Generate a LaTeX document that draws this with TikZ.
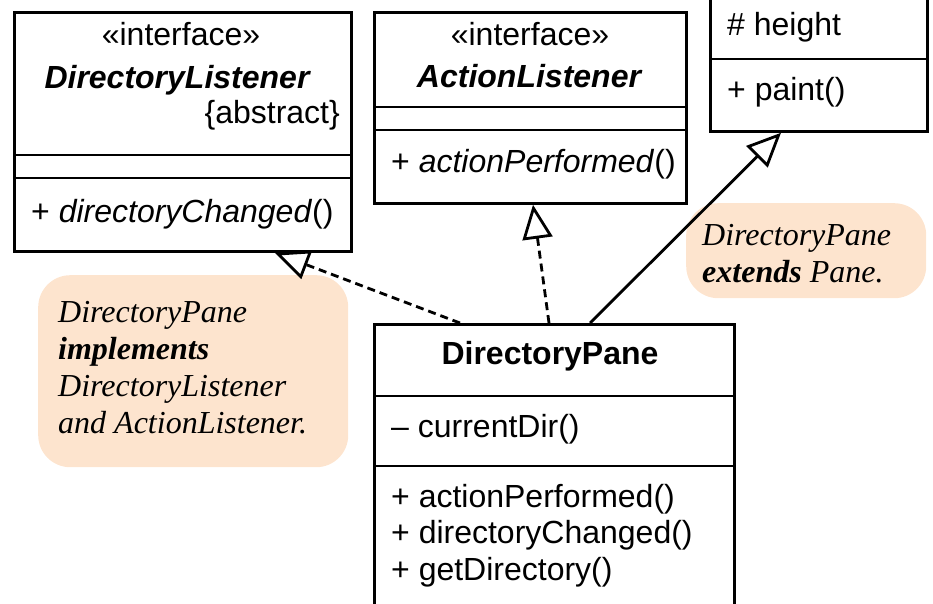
\documentclass[tikz,border=0pt]{standalone}
\usepackage{fontspec}
\setmainfont{Liberation Serif}
\setsansfont{Liberation Sans}
\usetikzlibrary{arrows.meta}
\definecolor{notefill}{RGB}{253,228,206}
\begin{document}
\begin{tikzpicture}[x=1pt,y=-1pt,
  umlbox/.style={draw, line width=2.8pt, rectangle, anchor=north west, inner sep=0pt},
  sep/.style={line width=2.8pt},
  sans/.style={font=\sffamily\fontsize{32}{37}\selectfont, inner sep=0pt},
  sansbi/.style={font=\sffamily\bfseries\itshape\fontsize{32}{37}\selectfont, inner sep=0pt},
  sansb/.style={font=\sffamily\bfseries\fontsize{32}{37}\selectfont, inner sep=0pt},
  notetext/.style={font=\rmfamily\itshape\fontsize{32}{37}\selectfont, inner sep=0pt, anchor=base west},
  notebox/.style={fill=notefill, rounded corners=32pt, rectangle, anchor=north west, inner sep=0pt},
  realize/.style={line width=2.8pt, dash pattern=on 8pt off 5pt, -{Triangle[open, length=34pt, width=30pt]}},
  inherit/.style={line width=2.8pt, -{Triangle[open, length=34pt, width=30pt]}}]
\useasboundingbox (0,0) rectangle (933,603);

% notes
\node[notebox, minimum width=310pt, minimum height=192pt] (note1) at (38,275) {};
\node[notebox, minimum width=240pt, minimum height=95pt] (note2) at (686,203) {};
\node[notetext] (n1a) at (58,322) {DirectoryPane};
\node[notetext] (n1b) at (58,359) {\bfseries implements};
\node[notetext] (n1c) at (58,396) {DirectoryListener};
\node[notetext] (n1d) at (58,433) {and ActionListener.};
\node[notetext] (n2a) at (702,245) {DirectoryPane};
\node[notetext] (n2b) at (702,282) {\textbf{extends} Pane.};

% DirectoryListener
\node[umlbox, minimum width=337pt, minimum height=239pt] (dl) at (13,11) {};
\draw[sep] (13,155) -- (350,155);
\draw[sep] (13,178) -- (350,178);
\node[sans, anchor=base] (dls) at (181,45) {«interface»};
\node[sansbi, anchor=base] (dln) at (177,88) {DirectoryListener};
\node[sans, anchor=base east] (dla) at (340,123) {\{abstract\}};
\node[sans, anchor=base west] (dlm) at (31,222) {+ \textit{directoryChanged}()};

% ActionListener
\node[umlbox, minimum width=312pt, minimum height=191pt] (al) at (373,11) {};
\draw[sep] (373,107) -- (685,107);
\draw[sep] (373,130) -- (685,130);
\node[sans, anchor=base] (als) at (530,45) {«interface»};
\node[sansbi, anchor=base] (aln) at (529,87) {ActionListener};
\node[sans, anchor=base west] (alm) at (391,172) {+ \textit{actionPerformed}()};

% Pane
\node[umlbox, minimum width=217pt, minimum height=150pt] (pane) at (709,-20) {};
\draw[sep] (709,59) -- (926,59);
\node[sans, anchor=base west] (pa) at (727,35) {\# height};
\node[sans, anchor=base west] (pm) at (727,100) {+ paint()};

% DirectoryPane
\node[umlbox, minimum width=360pt, minimum height=300pt] (dp) at (373,323) {};
\draw[sep] (373,396) -- (733,396);
\draw[sep] (373,466) -- (733,466);
\node[sansb, anchor=base] (dpn) at (550,364) {DirectoryPane};
\node[sans, anchor=base west] (dpa) at (391,437) {– currentDir()};
\node[sans, anchor=base west] (dpm1) at (391,507) {+ actionPerformed()};
\node[sans, anchor=base west] (dpm2) at (391,543) {+ directoryChanged()};
\node[sans, anchor=base west] (dpm3) at (391,580) {+ getDirectory()};

% connectors
\draw[realize] ([xshift=87pt]dp.north west) -- ([xshift=262pt]dl.south west);
\draw[realize] ([xshift=176pt]dp.north west) -- ([xshift=160pt]al.south west);
\draw[inherit] ([xshift=217pt]dp.north west) -- ([xshift=72pt]pane.south west);
\end{tikzpicture}
\end{document}
